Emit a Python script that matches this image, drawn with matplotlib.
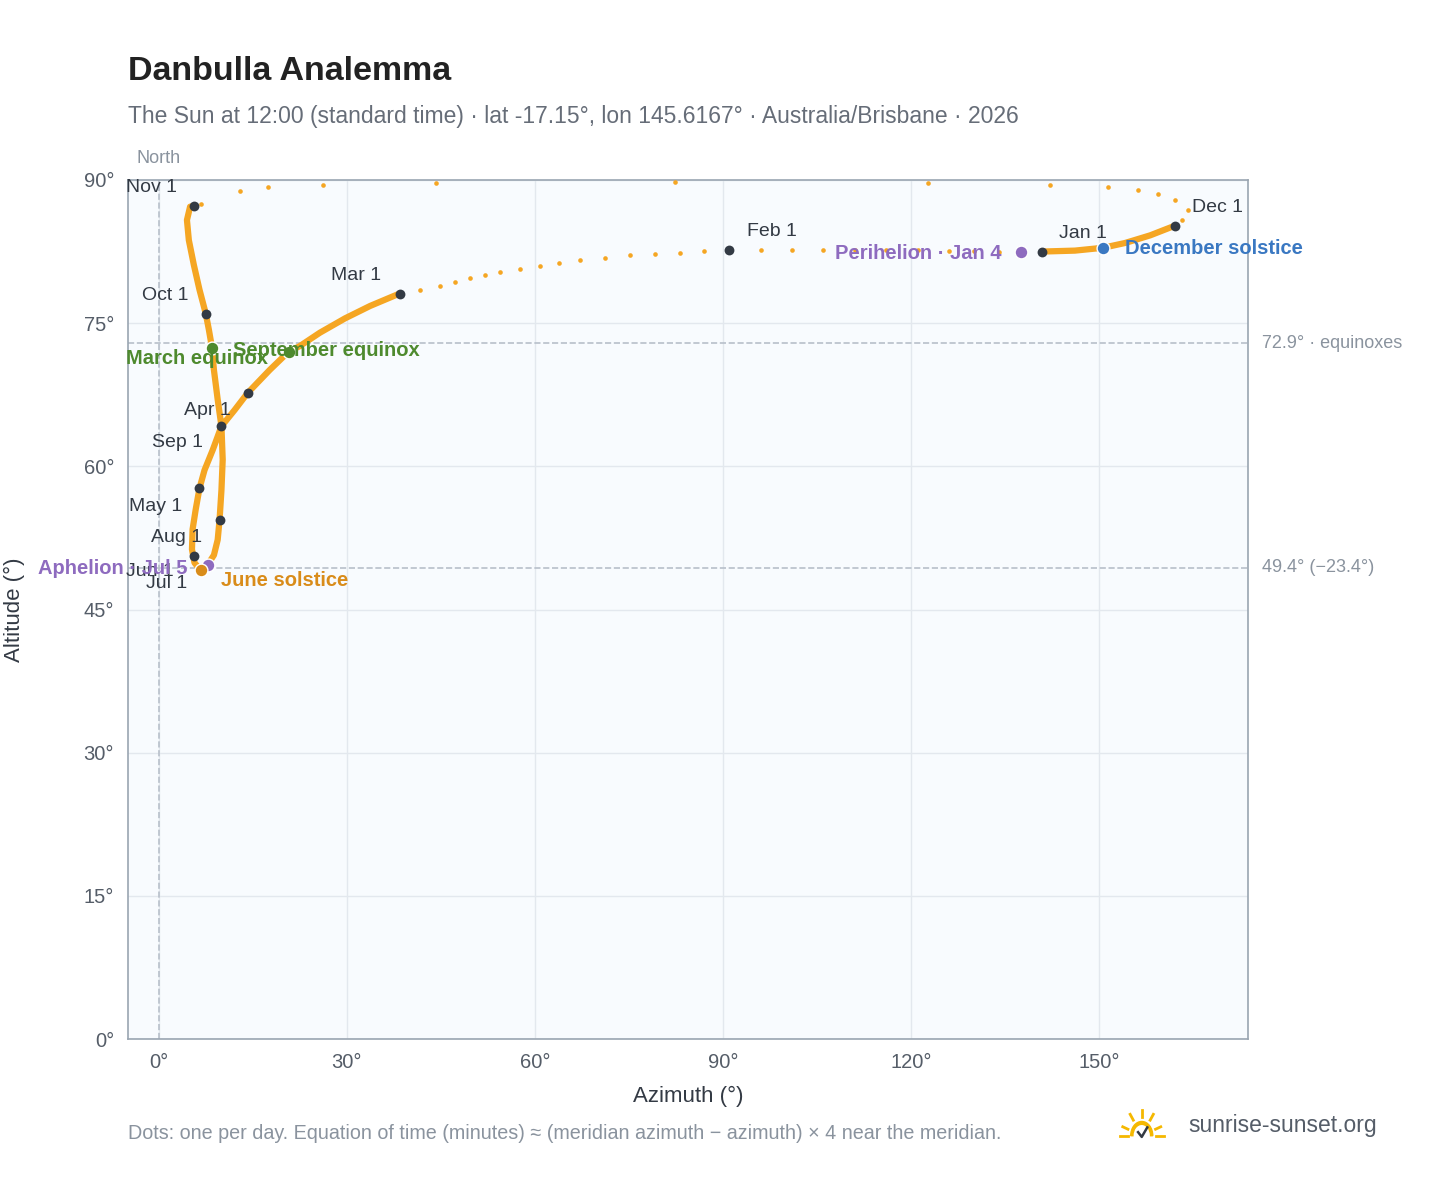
import numpy as np
import matplotlib.pyplot as plt
from matplotlib.patches import Wedge

plt.rcParams['font.family'] = ['Liberation Sans', 'DejaVu Sans']

# path of the noon sun through the year (azimuth, altitude)
seg_janfeb_az = [140.8, 137.5, 134, 130, 126, 121, 116, 111, 106, 101, 96, 90.9]
seg_janfeb_alt = [82.5, 82.5, 82.5, 82.6, 82.6, 82.7, 82.7, 82.7, 82.7, 82.7, 82.7, 82.7]
seg_febmar_az = [90.9, 87.0, 83.1, 79.1, 75.1, 71.1, 67.1, 63.9, 60.8, 57.6, 54.4, 52.0, 49.6, 47.2, 44.8, 41.6, 38.4]
seg_febmar_alt = [82.7, 82.55, 82.4, 82.25, 82.1, 81.85, 81.6, 81.3, 81.0, 80.7, 80.4, 80.05, 79.7, 79.3, 78.9, 78.5, 78.1]
seg_dense_az = [38.4, 33.7, 29.7, 25.7, 22.5, 20.7, 17.7, 14.2, 12.1, 10.0, 8.6, 7.3, 6.5, 5.9, 5.4, 5.3, 5.7, 6.7,
                7.8, 8.8, 9.4, 9.7, 10.0, 10.2, 10.0, 9.4, 8.8, 8.5, 8.0, 7.5, 6.5, 5.6, 4.8, 4.5, 5.0, 5.7]
seg_dense_alt = [78.1, 76.8, 75.5, 74.0, 72.6, 72.0, 70.1, 67.7, 65.9, 64.2, 61.7, 59.6, 57.7, 55.5, 53.4, 51.3, 49.9, 49.1,
                 49.7, 50.7, 52.3, 54.4, 57.5, 60.7, 64.2, 67.0, 70.1, 72.4, 74.3, 76.0, 78.5, 81.1, 83.7, 85.8, 87.2, 87.3]
seg_novdec_az = [5.7, 6.7, 12.9, 17.5, 26.2, 44.2, 82.3, 122.6, 142.1, 151.4, 156.1, 159.3, 162.0, 164.1, 163.2, 162.0]
seg_novdec_alt = [87.3, 87.5, 88.8, 89.3, 89.5, 89.7, 89.8, 89.7, 89.5, 89.3, 88.9, 88.5, 87.9, 86.9, 85.8, 85.2]
seg_decjan_az = [162.0, 158.1, 154.1, 150.6, 146.1, 140.8]
seg_decjan_alt = [85.2, 84.2, 83.4, 82.9, 82.6, 82.5]

month_az = [140.8, 90.9, 38.4, 14.2, 10.0, 6.5, 9.7, 5.6, 6.7, 7.5, 5.7, 162.0]
month_alt = [82.5, 82.7, 78.1, 67.7, 64.2, 57.7, 54.4, 50.6, 49.1, 76.0, 87.3, 85.2]
month_labels = ['Nov 1', 'Dec 1', 'Jan 1', 'Feb 1', 'Mar 1', 'Oct 1', 'Apr 1', 'Sep 1', 'May 1', 'Aug 1', 'Jun 1', 'Jul 1']
label_az = [-1.1, 168.9, 147.4, 97.8, 31.4, 1.0, 7.7, 3.0, -0.5, 2.9, -1.4, 1.3]
label_alt = [89.2, 87.1, 84.4, 84.6, 80.0, 77.9, 65.9, 62.5, 55.8, 52.5, 49.0, 47.7]

events = ['Perihelion · Jan 4', 'December solstice', 'March equinox', 'September equinox',
          'Aphelion · Jul 5', 'June solstice']
event_az = [137.5, 150.6, 8.5, 20.7, 7.8, 6.7]
event_alt = [82.5, 82.9, 72.4, 72.0, 49.7, 49.1]
event_text_az = [134.4, 154.1, 17.4, 11.8, 4.6, 10.0]
event_text_alt = [82.3, 82.8, 71.3, 72.1, 49.3, 48.0]
event_ha = ['right', 'left', 'right', 'left', 'right', 'left']
event_colors = ['#8e6bbf', '#3a78c2', '#4e8a2e', '#4e8a2e', '#8e6bbf', '#d98c1a']

ORANGE = '#f5a623'
fig = plt.figure(figsize=(14.48, 11.88), dpi=100)
ax = fig.add_axes([0.0884, 0.1254, 0.7735, 0.7231])
ax.set_facecolor('#f8fbfe')
ax.set_xlim(-4.9, 173.7)
ax.set_ylim(0, 90)

ax.grid(color='#e3e8ee', lw=1)
ax.set_axisbelow(True)
for s in ax.spines.values():
    s.set_color('#9aa5b1')
    s.set_linewidth(1.2)

ax.axvline(0, color='#b8c0ca', ls='--', lw=1.2)
for v in (72.9, 49.4):
    ax.axhline(v, color='#b8c0ca', ls='--', lw=1.2)
ax.text(176, 72.9, '72.9° · equinoxes', va='center', fontsize=13, color='#8a939e')
ax.text(176, 49.4, '49.4° (−23.4°)', va='center', fontsize=13, color='#8a939e')
ax.text(0, 91.4, 'North', ha='center', va='bottom', fontsize=13, color='#8a939e')

ax.plot(seg_dense_az, seg_dense_alt, color=ORANGE, lw=4.5, solid_capstyle='round', zorder=3)
ax.plot(seg_decjan_az, seg_decjan_alt, color=ORANGE, lw=4.5, solid_capstyle='round', zorder=3)
for a, b in [(seg_janfeb_az, seg_janfeb_alt), (seg_febmar_az, seg_febmar_alt), (seg_novdec_az, seg_novdec_alt)]:
    ax.scatter(a, b, s=11, color=ORANGE, zorder=3, lw=0)

ax.scatter(month_az, month_alt, s=50, color='#333a44', zorder=5, lw=0)
for t, x, y in zip(month_labels, label_az, label_alt):
    ax.text(x, y, t, ha='center', va='center', fontsize=14, color='#333a44', zorder=6)

for t, x, y, tx, ty, ha, c in zip(events, event_az, event_alt, event_text_az, event_text_alt, event_ha, event_colors):
    ax.scatter([x], [y], s=85, color=c, zorder=6, edgecolor='white', lw=1)
    ax.text(tx, ty, t, ha=ha, va='center', fontsize=14.5, fontweight='bold', color=c, zorder=7)

ax.set_xticks([0, 30, 60, 90, 120, 150])
ax.set_xticklabels([f'{v}°' for v in [0, 30, 60, 90, 120, 150]])
ax.set_yticks([0, 15, 30, 45, 60, 75, 90])
ax.set_yticklabels([f'{v}°' for v in [0, 15, 30, 45, 60, 75, 90]])
ax.tick_params(length=0, labelsize=14.5, colors='#555d68', pad=10)
ax.set_xlabel('Azimuth (°)', fontsize=16, color='#333a44', labelpad=10)
ax.set_ylabel('Altitude (°)', fontsize=16, color='#333a44')
ax.yaxis.set_label_coords(-0.092, 0.5)

fig.text(0.0884, 0.94, 'Danbulla Analemma', fontsize=24.5, fontweight='bold', color='#222222', va='center')
fig.text(0.0884, 0.902, 'The Sun at 12:00 (standard time) · lat -17.15°, lon 145.6167° · Australia/Brisbane · 2026',
         fontsize=16.5, color='#666d78', va='center')
fig.text(0.0884, 0.046, 'Dots: one per day. Equation of time (minutes) ≈ (meridian azimuth − azimuth) × 4 near the meridian.',
         fontsize=14.2, color='#8a939e', va='center')
fig.text(0.821, 0.053, 'sunrise-sunset.org', fontsize=16.5, color='#555d68', va='center')

# little sun logo
lax = fig.add_axes([0.772, 0.036, 0.033, 0.036])
lax.set_xlim(-1.3, 1.3)
lax.set_ylim(-0.4, 1.4)
lax.axis('off')
lax.add_patch(Wedge((0, 0), 0.6, 0, 180, width=0.12, color='#f5b800'))
for ang in np.radians([20, 55, 90, 125, 160]):
    lax.plot([0.8 * np.cos(ang), 1.1 * np.cos(ang)], [0.8 * np.sin(ang), 1.1 * np.sin(ang)], color='#f5b800', lw=2)
lax.plot([-1.2, -0.75], [0, 0], color='#f5b800', lw=2)
lax.plot([0.75, 1.2], [0, 0], color='#f5b800', lw=2)
lax.plot([-0.2, 0, 0.3], [0.15, -0.05, 0.35], color='#333a44', lw=1.8)

fig.savefig('out.png', dpi=100, facecolor='white')
